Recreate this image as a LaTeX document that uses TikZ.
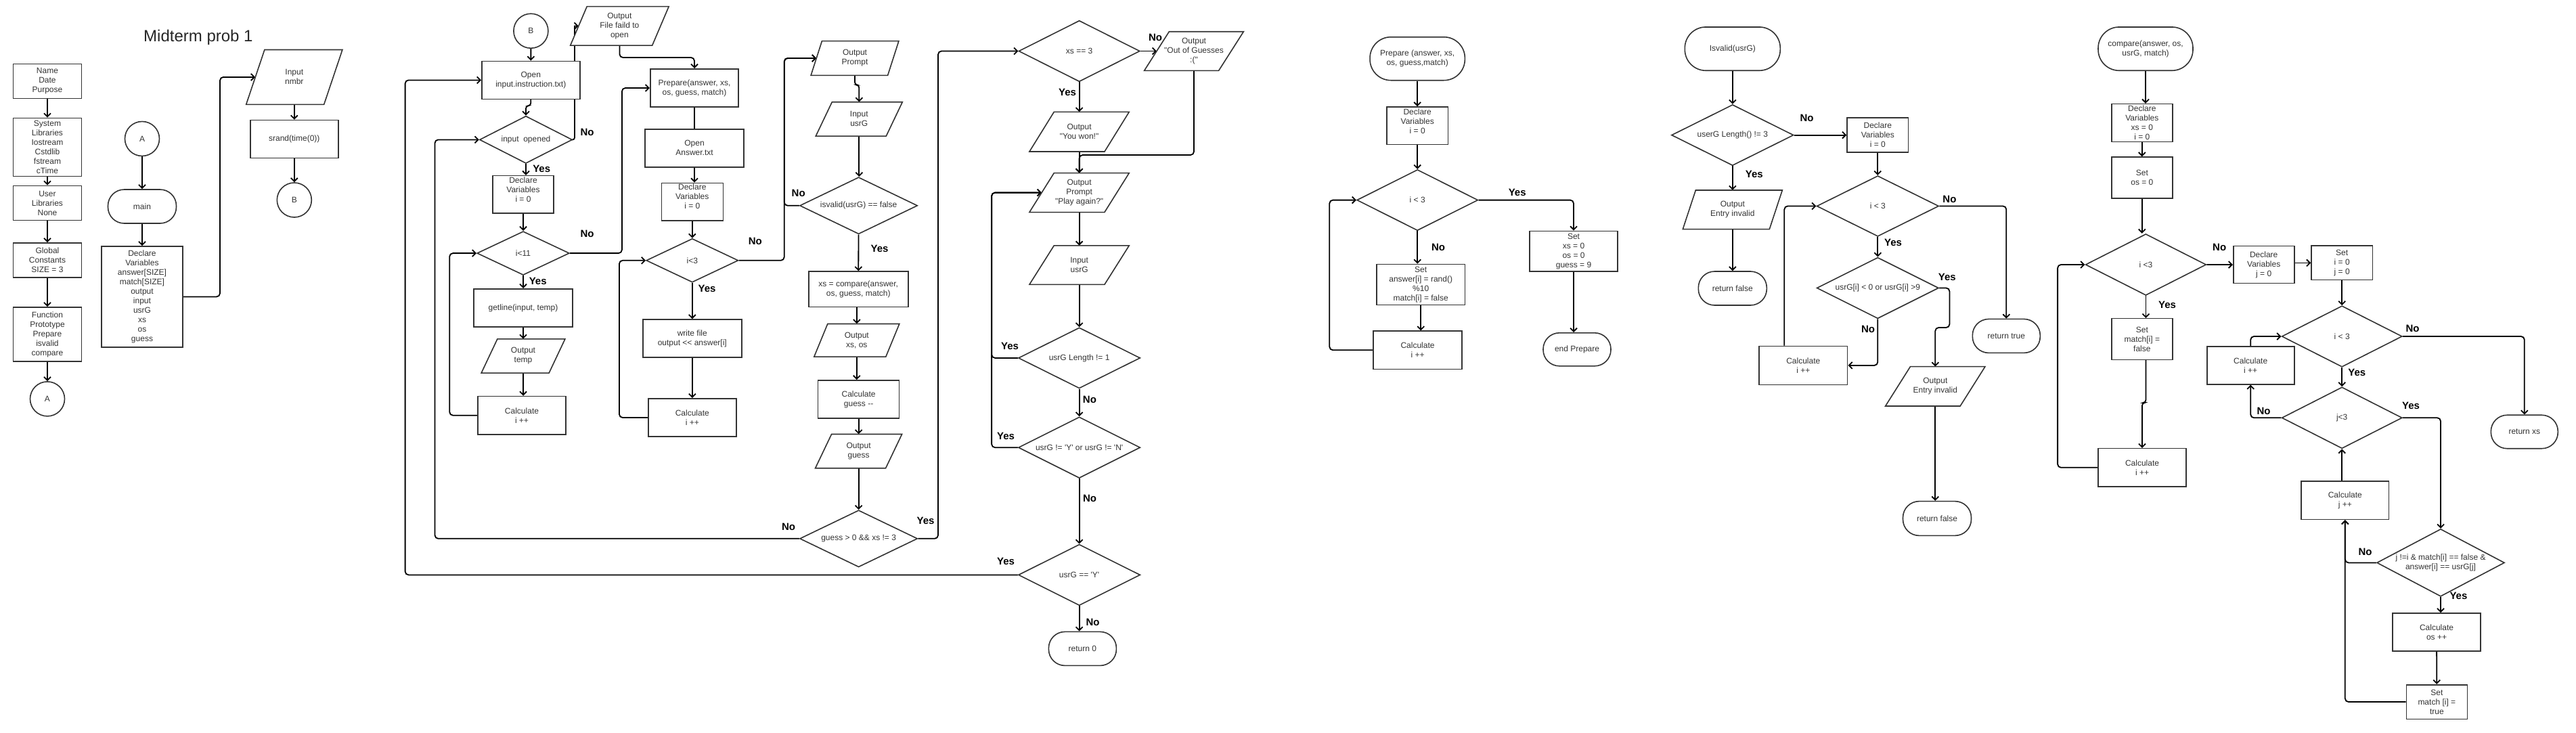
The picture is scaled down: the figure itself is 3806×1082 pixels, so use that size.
\documentclass[tikz,border=0pt]{standalone}
\usepackage{fontspec}
\newfontfamily\lib{Liberation Sans}
\usetikzlibrary{shapes.geometric,arrows.meta,calc}
\pgfdeclarelayer{back}
\pgfdeclarelayer{bg}
\pgfsetlayers{back,bg,main}
\tikzset{
 sz/.style 2 args={minimum width=#1pt, minimum height=#2pt},
 base/.style={draw=black!80, line width=1.6pt, fill=white, font=\lib\fontsize{12}{14}\selectfont, text=black!80, align=center, inner sep=1pt},
 box/.style={base, rectangle},
 term/.style={base, rectangle, rounded corners=#1},
 term/.default=24pt,
 circ/.style={base, circle, minimum size=51pt, inner sep=0pt},
 dia/.style={base, diamond, inner sep=0pt},
 txt/.style={font=\lib\fontsize{12}{14}\selectfont, text=black!80, align=center, inner sep=0pt},
 shp/.style={draw=black!80, line width=1.6pt, fill=white, line join=miter},
 lab/.style={font=\lib\bfseries\fontsize{15}{18}\selectfont, text=black, inner sep=0pt},
 conn/.style={draw=black, line width=1.8pt, rounded corners=5pt},
 arr/.style={conn, -{Straight Barb[length=5pt,width=10pt]}},
}
% name, x, y, edge width, height, slant, text
\newcommand\iobox[7]{%
 \draw[shp] ({#2-#4/2-#6/2},{#3+#5/2}) -- ({#2+#4/2-#6/2},{#3+#5/2}) -- ({#2+#4/2+#6/2},{#3-#5/2}) -- ({#2-#4/2+#6/2},{#3-#5/2}) -- cycle;
 \node[txt, minimum width=#4pt, minimum height=#5pt] (#1) at (#2,#3) {#7};}
\newcommand\dtext[2]{\node[txt] (#1-t) at (#1) {#2};}
\begin{document}
\begin{tikzpicture}[x=1pt,y=-1pt]
\useasboundingbox (0,0) rectangle (3806,1082);
\begin{pgfonlayer}{back}
\fill[white] (0,0) rectangle (3806,1082);
\end{pgfonlayer}

\node[font=\lib\fontsize{24}{28}\selectfont, text=black!85] (title) at (292.9,55) {Midterm prob 1};

% ---------- column 1
\node[box, sz={101}{51}] (name) at (70,120) {Name\\Date\\Purpose};
\node[box, sz={101}{86}] (sys) at (70,217.5) {System\\Libraries\\Iostream\\Cstdlib\\fstream\\cTime};
\node[box, sz={101}{51}] (usr) at (70,300) {User\\Libraries\\None};
\node[box, sz={101}{51}] (glob) at (70,384.5) {Global\\Constants\\SIZE = 3};
\node[box, sz={101}{80}] (proto) at (70,494) {Function\\Prototype\\Prepare\\isvalid\\compare};
\node[circ] (a1) at (70,589.4) {A};

% ---------- column 2
\node[circ] (a2) at (210,205) {A};
\node[term, sz={101}{50}] (main) at (210,305) {main};
\node[box, sz={120}{149}] (decl) at (210,438.4) {Declare\\Variables\\answer[SIZE]\\match[SIZE]\\output\\input\\usrG\\xs\\os\\guess};
\iobox{nmbr}{434.8}{113.9}{115}{80.8}{27.2}{Input\\nmbr}
\node[box, sz={130}{56}] (srand) at (434.8,205.5) {srand(time(0))};
\node[circ] (b1) at (434.8,295.5) {B};

% ---------- main flow, part B
\node[circ] (b2) at (784.4,45.7) {B};
\node[box, sz={145}{56}] (open1) at (784.3,118.4) {Open\\input.instruction.txt)};
\iobox{fail}{915.4}{38.4}{121}{57.5}{24.5}{Output\\File faild to\\open}
\node[dia, sz={137}{70}] (opened) at (777,206.4) {}; \dtext{opened}{input\ \ opened}
\node[box, sz={90}{55.4}] (dv1) at (773,287.3) {};
\node[txt] (dv1-t) at ([yshift=7.5pt]dv1.center) {Declare\\Variables\\i = 0};
\node[dia, sz={136.5}{64.6}] (i11) at (773,374.1) {}; \dtext{i11}{i<11}
\node[box, sz={145.5}{56.4}] (getl) at (773,455) {getline(input, temp)};
\iobox{otemp}{773}{526}{100}{50.2}{23.7}{Output\\temp}
\node[box, sz={130.4}{56.3}] (calc1) at (771,613.7) {Calculate\\i ++};

\node[box, sz={130.5}{56.4}] (prep) at (1026,130) {Prepare(answer, xs,\\os, guess, match)};
\node[box, sz={145.5}{56}] (open2) at (1026,218.8) {Open\\Answer.txt};
\node[box, sz={91}{55.7}] (dv2) at (1022.8,298.2) {};
\node[txt] (dv2-t) at ([yshift=7.5pt]dv2.center) {Declare\\Variables\\i = 0};
\node[dia, sz={136}{64.6}] (i3a) at (1022.8,384.8) {}; \dtext{i3a}{i<3}
\node[box, sz={146}{56}] (wf) at (1022.8,500) {write file\\output << answer[i]};
\node[box, sz={130}{56.3}] (calc2) at (1022.8,617) {Calculate\\i ++};

\iobox{prompt}{1263}{86}{113.5}{50.7}{16.3}{Output\\Prompt}
\iobox{in1}{1269.3}{175.9}{104}{50.3}{24}{Input\\usrG}
\node[dia, sz={174}{84}] (isv) at (1268.6,303.8) {}; \dtext{isv}{isvalid(usrG) == false}
\node[box, sz={147}{52.5}] (cmp) at (1268.2,427.3) {xs = compare(answer,\\os, guess, match)};
\iobox{oxo}{1265.8}{502.8}{106}{48.6}{20}{Output\\xs, os}
\node[box, sz={120}{56}] (cg) at (1268.6,589.9) {Calculate\\guess --};
\iobox{og}{1268.6}{666.6}{104}{50.2}{24}{Output\\guess}
\node[dia, sz={174}{84}] (gd) at (1268.6,795.8) {}; \dtext{gd}{guess > 0 \&\& xs != 3}

\node[dia, sz={179}{90.3}] (xs3) at (1594.6,75.5) {}; \dtext{xs3}{xs == 3}
\iobox{oog}{1764}{75.5}{110}{57.6}{36.7}{Output\\"Out of Guesses\\:("}
\iobox{won}{1594.6}{194.7}{111}{58.6}{36.3}{Output\\"You won!"}
\iobox{play}{1594.6}{284.6}{111}{57.9}{36.3}{Output\\Prompt\\"Play again?"}
\iobox{in2}{1594.6}{391.6}{111}{57.5}{36.3}{Input\\usrG}
\node[dia, sz={180}{89.8}] (len1) at (1594.6,528.9) {}; \dtext{len1}{usrG Length != 1}
\node[dia, sz={180}{90.4}] (yn) at (1594.6,661.2) {}; \dtext{yn}{usrG != 'Y' or usrG != 'N'}
\node[dia, sz={180}{90.3}] (isy) at (1594.6,849.4) {}; \dtext{isy}{usrG == 'Y'}
\node[term, sz={100}{50}] (ret0) at (1599.4,958.4) {return 0};

% ---------- Prepare
\node[term=31pt, sz={140.3}{64}] (pst) at (2094.2,86.7) {Prepare (answer, xs,\\os, guess,match)};
\node[box, sz={90.7}{55.5}] (pdv) at (2094.2,185.8) {};
\node[txt] (pdv-t) at ([yshift=7pt]pdv.center) {Declare\\Variables\\i = 0};
\node[dia, sz={179}{90}] (pi3) at (2094.2,295.6) {}; \dtext{pi3}{i < 3}
\node[box, sz={130.3}{60}] (pset) at (2099.2,420.4) {Set\\answer[i] = rand()\\\%10\\match[i] = false};
\node[box, sz={131}{56.3}] (pcalc) at (2094.5,517.3) {Calculate\\i ++};
\node[box, sz={130}{59.7}] (pset2) at (2325,371.2) {Set\\xs = 0\\os = 0\\guess = 9};
\node[term, sz={100}{49}] (pend) at (2330,516.3) {end Prepare};

% ---------- isvalid
\node[term=31pt, sz={141}{64.3}] (vst) at (2559.8,72.1) {Isvalid(usrG)};
\node[dia, sz={180.4}{90}] (vlen) at (2559.8,199.6) {}; \dtext{vlen}{userG Length() != 3}
\node[box, sz={90.7}{50.7}] (vdv) at (2774.3,199.6) {Declare\\Variables\\i = 0};
\iobox{vout1}{2559.8}{309.8}{128}{57.6}{19}{Output\\Entry invalid}
\node[term, sz={101}{50}] (vret1) at (2559.8,426) {return false};
\node[dia, sz={180.3}{89.6}] (vi3) at (2774.3,304.5) {}; \dtext{vi3}{i < 3}
\node[term, sz={100}{50}] (vtrue) at (2964.3,496.4) {return true};
\node[dia, sz={180}{90.3}] (vchk) at (2774.3,425.5) {}; \dtext{vchk}{usrG[i] < 0 or usrG[i] >9}
\node[box, sz={130.7}{57}] (vcalc) at (2664.3,539.9) {Calculate\\i ++};
\iobox{vout2}{2859.3}{570.8}{110.5}{58.3}{36.8}{Output\\Entry invalid}
\node[term, sz={101}{50.7}] (vret2) at (2862,766) {return false};

% ---------- compare
\node[term=31pt, sz={140}{64.3}] (cst) at (3170,72.1) {compare(answer, os,\\usrG, match)};
\node[box, sz={90}{56}] (cdv) at (3164.8,181.6) {Declare\\Variables\\xs = 0\\i = 0};
\node[box, sz={90}{60.7}] (cos) at (3164.8,262.5) {Set\\os = 0};
\node[dia, sz={178.4}{90.7}] (ci3) at (3170.4,391) {}; \dtext{ci3}{i <3}
\node[box, sz={90}{55}] (cdj) at (3344.7,391.1) {Declare\\Variables\\j = 0};
\node[box, sz={90.5}{50.4}] (cset) at (3460.2,388.4) {Set\\i = 0\\j = 0};
\node[box, sz={90}{60.7}] (cmf) at (3164.8,501) {Set\\match[i] =\\false};
\node[box, sz={129.5}{56.3}] (ccalc1) at (3165,690.8) {Calculate\\i ++};
\node[dia, sz={177.9}{90.3}] (cj3) at (3460.2,497) {}; \dtext{cj3}{i < 3}
\node[term, sz={99}{49.5}] (cret) at (3729.8,638) {return xs};
\node[box, sz={129}{56}] (ccalc2) at (3325.2,539.8) {Calculate\\i ++};
\node[dia, sz={177.9}{90.7}] (cjj) at (3460.2,617.3) {}; \dtext{cjj}{j<3}
\node[box, sz={129.6}{56.3}] (cjpp) at (3464.8,739.2) {Calculate\\j ++};
\node[dia, sz={188.7}{99.7}] (cbig) at (3606,831.4) {}; \dtext{cbig}{j !=i \& match[i] == false \&\\answer[i] == usrG[j]}
\node[box, sz={130}{56}] (cosp) at (3600,934) {Calculate\\os ++};
\node[box, sz={90}{50.6}] (cmt) at (3600.3,1037) {Set\\match [i] =\\true};

% ---------- labels
\node[lab] (l1) at (867.5,195.4) {No};
\node[lab] (l2) at (800.2,249) {Yes};
\node[lab] (l3) at (867.5,345.4) {No};
\node[lab] (l4) at (794.7,415.4) {Yes};
\node[lab] (l5) at (1115.8,356) {No};
\node[lab] (l6) at (1044.6,426) {Yes};
\node[lab] (l7) at (1179.7,285.7) {No};
\node[lab] (l8) at (1299.5,367) {Yes};
\node[lab] (l9) at (1165,778) {No};
\node[lab] (l10) at (1367.5,769.8) {Yes};
\node[lab] (l11) at (1707,55.4) {No};
\node[lab] (l12) at (1577,136.8) {Yes};
\node[lab] (l13) at (1492,511.4) {Yes};
\node[lab] (l14) at (1609.9,590.6) {No};
\node[lab] (l15) at (1486,644.4) {Yes};
\node[lab] (l16) at (1610,736.5) {No};
\node[lab] (l17) at (1486,829) {Yes};
\node[lab] (l18) at (1614.6,918.9) {No};
\node[lab] (l19) at (2241.7,284) {Yes};
\node[lab] (l20) at (2125,365.5) {No};
\node[lab] (l21) at (2669.6,174.3) {No};
\node[lab] (l22) at (2591.8,257.9) {Yes};
\node[lab] (l23) at (2880.4,294.6) {No};
\node[lab] (l24) at (2797,358.2) {Yes};
\node[lab] (l25) at (2876.8,409) {Yes};
\node[lab] (l26) at (2760,486.4) {No};
\node[lab] (l27) at (3279.2,365.4) {No};
\node[lab] (l28) at (3202,450.7) {Yes};
\node[lab] (l29) at (3564.5,485.7) {No};
\node[lab] (l30) at (3482.3,550) {Yes};
\node[lab] (l31) at (3344.5,607.8) {No};
\node[lab] (l32) at (3562,599.6) {Yes};
\node[lab] (l33) at (3494.6,815.7) {No};
\node[lab] (l34) at (3632.4,880.2) {Yes};

% ---------- connectors
\begin{pgfonlayer}{bg}
\draw[arr] (name) -- (sys);
\draw[arr] (sys) -- (usr);
\draw[arr] (usr) -- (glob);
\draw[arr] (glob) -- (proto);
\draw[arr] (proto) -- (a1);
\draw[arr] (a2) -- (main);
\draw[arr] (main) -- (decl);
\draw[arr] (decl.east) -| (325,113.9) -- (nmbr.west);
\draw[arr] (nmbr.south) -- (srand.north);
\draw[arr] (srand) -- (b1);

\draw[arr] (b2) -- (open1);
\draw[arr, rounded corners=4pt] (open1.south) -- ++(0,9) -| (opened.north);
\draw[arr, rounded corners=3pt] (opened.east) -- (849,206.4) [sharp corners] -- (849,38.4) -- (fail.west);
\draw[arr] (fail.south) -- (915.4,85) -| (prep.north);
\draw[arr] (opened.south) -- (opened.south |- dv1.north);
\draw[arr] (dv1) -- (i11);
\draw[arr] (i11) -- (getl);
\draw[arr] (getl.south) -- (otemp.north);
\draw[arr] (otemp.south) -- (otemp.south |- calc1.north);
\draw[arr] (calc1.west) -- (664.2,613.7) |- (i11.west);
\draw[arr] (i11.east) -| (918.9,130) -- (prep.west);
\draw[conn] (prep) -- (open2);
\draw[arr] (open2.south) -- (open2.south |- dv2.north);
\draw[arr] (dv2) -- (i3a);
\draw[arr] (i3a) -- (wf);
\draw[arr] (wf) -- (calc2);
\draw[arr] (calc2.west) -- (914.9,617) |- (i3a.west);
\draw[arr] (i3a.east) -| (1158.7,86) -- (prompt.west);

\draw[arr, rounded corners=4pt] (prompt.south) -- ++(0,14) -| (in1.north);
\draw[arr] (in1.south) -- (in1.south |- isv.north);
\draw[arr] (isv.west) -- (1158.7,303.8) |- (prompt.west);
\draw[arr] (isv) -- (cmp);
\draw[arr] (oxo.north |- cmp.south) -- (oxo.north);
\draw[arr] (oxo.south) -- (oxo.south |- cg.north);
\draw[arr] (cg) -- (og);
\draw[arr] (og.south) -- (gd.north);
\draw[arr] (gd.east) -| (1386,75.5) -- (xs3.west);
\draw[arr] (gd.west) -- (642.5,795.8) |- (opened.west);

\draw[arr] (xs3.east) -- (oog.west);
\draw[arr] (xs3.south) -- (won.north);
\draw[arr] (won.south) -- (play.north);
\draw[arr] (oog.south) -- (1764,229) -| (play.north);
\draw[arr] (play.south) -- (in2.north);
\draw[arr] (in2.south) -- (len1.north);
\draw[arr] (len1.west) -- (1465.1,528.9) |- (play.west);
\draw[arr] (len1) -- (yn);
\draw[arr] (yn.west) -- (1465.1,661.2) |- (play.west);
\draw[arr] (yn) -- (isy);
\draw[arr] (isy.west) -- (598.6,849.4) |- (open1.west);
\draw[arr] (isy.south) -- (isy.south |- ret0.north);

\draw[arr] (pst) -- (pdv);
\draw[arr] (pdv) -- (pi3);
\draw[arr] (pi3.south) -- (pi3.south |- pset.north);
\draw[arr] (pset.south) -- (pset.south |- pcalc.north);
\draw[arr] (pcalc.west) -- (1964.3,517.3) |- (pi3.west);
\draw[arr] (pi3.east) -| (pset2.north);
\draw[arr] (pset2.south) -- (pset2.south |- pend.north);

\draw[arr] (vst) -- (vlen);
\draw[arr] (vlen.east) -- (vdv.west);
\draw[arr] (vlen.south) -- (vout1.north);
\draw[arr] (vout1.south) -- (vret1.north);
\draw[arr] (vdv) -- (vi3);
\draw[arr] (vi3.east) -| (vtrue.north);
\draw[arr] (vi3) -- (vchk);
\draw[arr] (vchk.east) -| (2880.4,484) -| (vout2.north);
\draw[arr] (vchk.south) |- (vcalc.east);
\draw[arr] ([xshift=-28pt]vcalc.north) |- (vi3.west);
\draw[arr] (vout2.south) -- (vout2.south |- vret2.north);

\draw[arr] (cst.south) -- (cst.south |- cdv.north);
\draw[arr] (cdv) -- (cos);
\draw[arr] (cos.south) -- (cos.south |- ci3.north);
\draw[arr] (ci3.east) -- (cdj.west);
\draw[arr] (cdj.east |- cset.west) -- (cset.west);
\draw[arr] (cset.south) -- (cj3.north);
\draw[arr] (ci3.south) -- (ci3.south |- cmf.north);
\draw[arr, rounded corners=4pt] (ci3.south |- cmf.south) -- (3170.4,595) -| (ccalc1.north);
\draw[arr] (ccalc1.west) -- (3040.1,690.8) |- (ci3.west);
\draw[arr] (cj3.east) -| (cret.north);
\draw[arr] (ccalc2.north) |- (cj3.west);
\draw[arr] (cj3) -- (cjj);
\draw[arr] (cjj.west) -| (ccalc2.south);
\draw[arr] (cjj.east) -| (cbig.north);
\draw[arr] (cjj.south |- cjpp.north) -- (cjj.south);
\draw[arr] (cbig.west) -| (cjpp.south);
\draw[arr] (cbig.south) -- (cbig.south |- cosp.north);
\draw[arr] (cosp) -- (cmt);
\draw[arr] (cmt.west) -| (cjpp.south);
\end{pgfonlayer}
\end{tikzpicture}
\end{document}
